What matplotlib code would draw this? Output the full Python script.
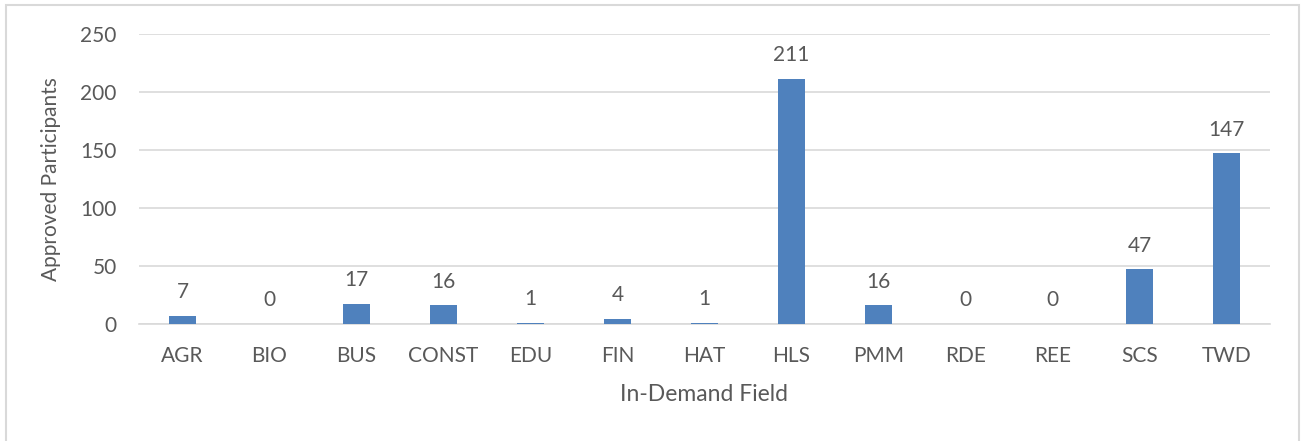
import matplotlib
matplotlib.use("Agg")
import matplotlib.pyplot as plt
from matplotlib.patches import Rectangle

categories = ["AGR", "BIO", "BUS", "CONST", "EDU", "FIN", "HAT", "HLS", "PMM", "RDE", "REE", "SCS", "TWD"]
values = [7, 0, 17, 16, 1, 4, 1, 211, 16, 0, 0, 47, 147]
yticks = [0, 50, 100, 150, 200, 250]

plt.rcParams['font.family'] = ['Lato', 'DejaVu Sans']
txt = '#595959'

fig = plt.figure(figsize=(13.04, 4.41), dpi=100)
fig.patches.append(Rectangle((6/1304, -0.05), 1293/1304, 1.05 - 5/441, transform=fig.transFigure,
                             fill=False, edgecolor='#D9D9D9', linewidth=1.5))
ax = fig.add_axes([139/1304, 1-324/441, (1270-139)/1304, (324-34)/441])
x = list(range(len(categories)))
bars = ax.bar(x, values, width=0.31, color='#4F81BD', zorder=3)
for xi, v in zip(x, values):
    ax.annotate(str(v), (xi, v), xytext=(0, 10), textcoords='offset points',
                ha='center', va='bottom', fontsize=15, color=txt)
ax.set_xlim(-0.5, len(categories) - 0.5)
ax.set_ylim(0, 250)
ax.set_yticks(yticks)
ax.set_xticks(x)
ax.set_xticklabels(categories)
ax.tick_params(axis='both', length=0, labelsize=15, labelcolor=txt)
ax.tick_params(axis='x', pad=16)
ax.tick_params(axis='y', pad=16)
ax.grid(axis='y', color='#D9D9D9', linewidth=1.2, zorder=0)
for s in ['top', 'right', 'left']:
    ax.spines[s].set_visible(False)
ax.spines['bottom'].set_color('#D9D9D9')
ax.spines['bottom'].set_linewidth(1.2)
ax.set_xlabel('In-Demand Field', fontsize=16.5, color=txt, labelpad=13)
ax.set_ylabel('Approved Participants', fontsize=15, color=txt, labelpad=14)
fig.savefig('out.png', dpi=100)
